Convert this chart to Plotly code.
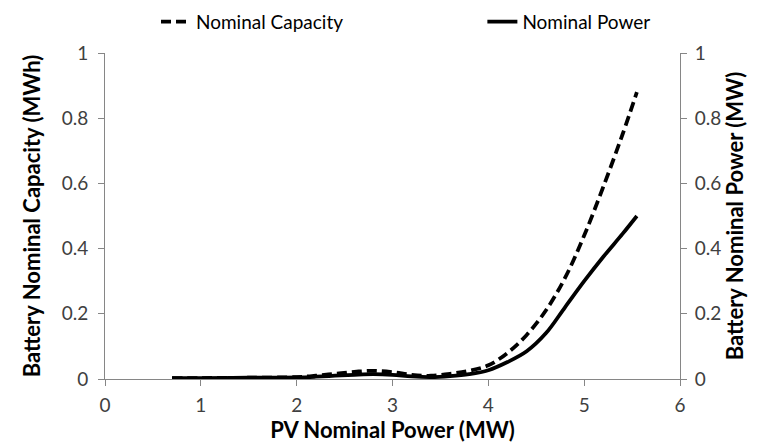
import plotly.graph_objects as go

# PV nominal power (MW) and the two battery sizing curves
pv_power = [0.7, 1.0, 1.5, 2.0, 2.2, 2.4, 2.6, 2.8, 3.0, 3.2, 3.4, 3.6, 3.8,
            4.0, 4.2, 4.4, 4.6, 4.8, 5.0, 5.2, 5.4, 5.55]
nominal_capacity = [0.003, 0.003, 0.004, 0.006, 0.010, 0.016, 0.022, 0.025, 0.021,
                    0.013, 0.010, 0.016, 0.025, 0.042, 0.08, 0.135, 0.21, 0.31,
                    0.44, 0.59, 0.75, 0.88]
nominal_power = [0.003, 0.003, 0.004, 0.005, 0.007, 0.010, 0.013, 0.015, 0.013,
                 0.008, 0.006, 0.009, 0.015, 0.027, 0.052, 0.085, 0.14, 0.22,
                 0.30, 0.375, 0.445, 0.50]

x_ticks = [0, 1, 2, 3, 4, 5, 6]
y_ticks = [0, 0.2, 0.4, 0.6, 0.8, 1]

font_family = 'Lato, Open Sans, sans-serif'
axis_grey = '#868686'
label_grey = '#404040'

fig = go.Figure()

fig.add_trace(go.Scatter(
    x=pv_power, y=nominal_capacity, name='Nominal Capacity', legend='legend',
    mode='lines', line={'color': 'black', 'width': 3.75, 'dash': '10px,5px', 'shape': 'spline'},
))
fig.add_trace(go.Scatter(
    x=pv_power, y=nominal_power, name='Nominal Power', yaxis='y2', legend='legend2',
    mode='lines', line={'color': 'black', 'width': 3.75, 'shape': 'spline'},
))

axis_common = {
    'showgrid': False, 'zeroline': False, 'showline': True, 'automargin': False,
    'linecolor': axis_grey, 'linewidth': 1,
    'ticks': 'outside', 'ticklen': 6, 'tickcolor': axis_grey, 'ticklabelstandoff': 6,
    'tickfont': {'size': 19, 'color': label_grey, 'family': font_family},
}
title_font = {'size': 22, 'color': 'black', 'family': font_family}

legend_common = {'orientation': 'h', 'xref': 'container', 'xanchor': 'left',
                 'yref': 'container', 'y': 0.969, 'yanchor': 'middle',
                 'font': {'size': 19, 'color': 'black'}}

fig.update_layout({
    'width': 759, 'height': 446,
    'margin': {'l': 97, 'r': 87, 't': 45, 'b': 75},
    'paper_bgcolor': 'white', 'plot_bgcolor': 'white',
    'font': {'family': font_family},
    'xaxis': dict(axis_common, range=[0, 6], tickvals=x_ticks, ticklabelstandoff=3,
                  title={'text': '<b>PV Nominal Power (MW)</b>', 'font': title_font, 'standoff': 1}),
    'yaxis': dict(axis_common, range=[0, 1], tickvals=y_ticks,
                  title={'text': '<b>Battery Nominal Capacity (MWh)</b>', 'font': title_font,
                         'standoff': 14}),
    'yaxis2': dict(axis_common, range=[0, 1], tickvals=y_ticks, overlaying='y', side='right',
                   ticklabelstandoff=4,
                   title={'text': '<b>Battery Nominal Power (MW)</b>', 'font': title_font,
                          'standoff': 6}),
    'showlegend': True,
    'legend': dict(legend_common, x=0.195),
    'legend2': dict(legend_common, x=0.625),
})

fig.write_html('out.html')
